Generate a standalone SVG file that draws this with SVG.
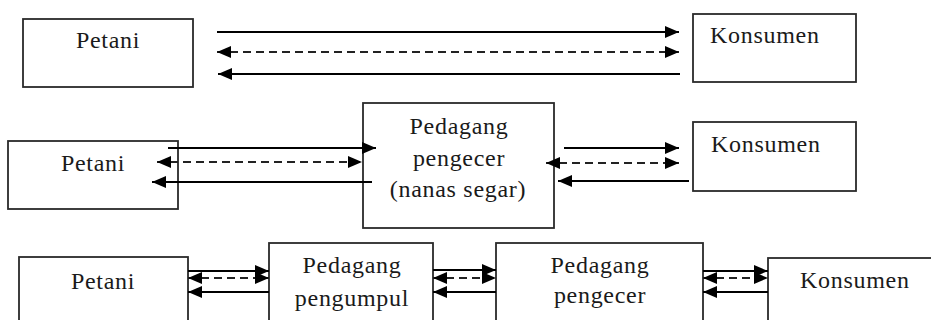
<svg xmlns="http://www.w3.org/2000/svg" width="931" height="320" viewBox="0 0 931 320">
<style>
.box{fill:#fff;stroke:#2a2a2a;stroke-width:1.8}
.t{font-family:'Liberation Serif','DejaVu Serif','Times New Roman',serif;font-size:24px;letter-spacing:0.7px;fill:#1a1a1a}
.c{text-anchor:middle}
.ln{fill:none;stroke:#000;stroke-width:1.8}
.d{stroke-dasharray:8 5;stroke:#222}
</style>
<defs>
<marker id="ah" markerUnits="userSpaceOnUse" markerWidth="15" markerHeight="13" refX="14" refY="6" orient="auto-start-reverse" viewBox="0 0 15 13">
<path d="M0,0 L14,6 L0,12 z" fill="#000"/>
</marker>
</defs>
<rect width="931" height="320" fill="#fff"/>

<g id="r1-petani"><rect class="box" x="23" y="19" width="170" height="68"/><text class="t c" x="108" y="48">Petani</text></g>
<g id="r1-konsumen"><rect class="box" x="693" y="14" width="163" height="68"/><text class="t" x="710" y="43">Konsumen</text></g>

<g id="r2-petani"><rect class="box" x="8" y="141" width="170" height="68"/><text class="t c" x="93" y="171">Petani</text></g>
<g id="r2-pengecer"><rect class="box" x="363" y="103" width="191" height="125"/><text class="t c" x="459" y="134">Pedagang</text><text class="t c" x="459" y="166">pengecer</text><text class="t c" x="458" y="197">(nanas segar)</text></g>
<g id="r2-konsumen"><rect class="box" x="693" y="122" width="163" height="69"/><text class="t" x="711" y="152">Konsumen</text></g>

<g id="r3-petani"><rect class="box" x="19" y="257" width="169" height="80"/><text class="t c" x="103" y="289">Petani</text></g>
<g id="r3-pengumpul"><rect class="box" x="269" y="243" width="164" height="90"/><text class="t c" x="352" y="273">Pedagang</text><text class="t c" x="352" y="306">pengumpul</text></g>
<g id="r3-pengecer"><rect class="box" x="496" y="243" width="207" height="90"/><text class="t c" x="600" y="273">Pedagang</text><text class="t c" x="600" y="303">pengecer</text></g>
<g id="r3-konsumen"><rect class="box" x="768" y="258" width="180" height="80"/><text class="t" x="800" y="288">Konsumen</text></g>

<g id="connectors">
<path class="ln" d="M217,32 H679" marker-end="url(#ah)"/>
<path class="ln d" d="M217,52 H679" marker-start="url(#ah)" marker-end="url(#ah)"/>
<path class="ln" d="M680,74 H218" marker-end="url(#ah)"/>

<path class="ln" d="M168,148 H376" marker-end="url(#ah)"/>
<path class="ln d" d="M157,162 H362" marker-start="url(#ah)" marker-end="url(#ah)"/>
<path class="ln" d="M372,182 H152" marker-end="url(#ah)"/>

<path class="ln" d="M564,148 H679" marker-end="url(#ah)"/>
<path class="ln d" d="M546,163 H679" marker-start="url(#ah)" marker-end="url(#ah)"/>
<path class="ln" d="M689,181 H558" marker-end="url(#ah)"/>

<path class="ln" d="M188,271 H269" marker-end="url(#ah)"/>
<path class="ln d" d="M188,278 H269" marker-start="url(#ah)" marker-end="url(#ah)"/>
<path class="ln" d="M269,292 H188" marker-end="url(#ah)"/>

<path class="ln" d="M433,270 H496" marker-end="url(#ah)"/>
<path class="ln d" d="M433,278 H496" marker-start="url(#ah)" marker-end="url(#ah)"/>
<path class="ln" d="M496,292 H433" marker-end="url(#ah)"/>

<path class="ln" d="M703,271 H768" marker-end="url(#ah)"/>
<path class="ln d" d="M703,278 H768" marker-start="url(#ah)" marker-end="url(#ah)"/>
<path class="ln" d="M768,292 H703" marker-end="url(#ah)"/>
</g>
</svg>
